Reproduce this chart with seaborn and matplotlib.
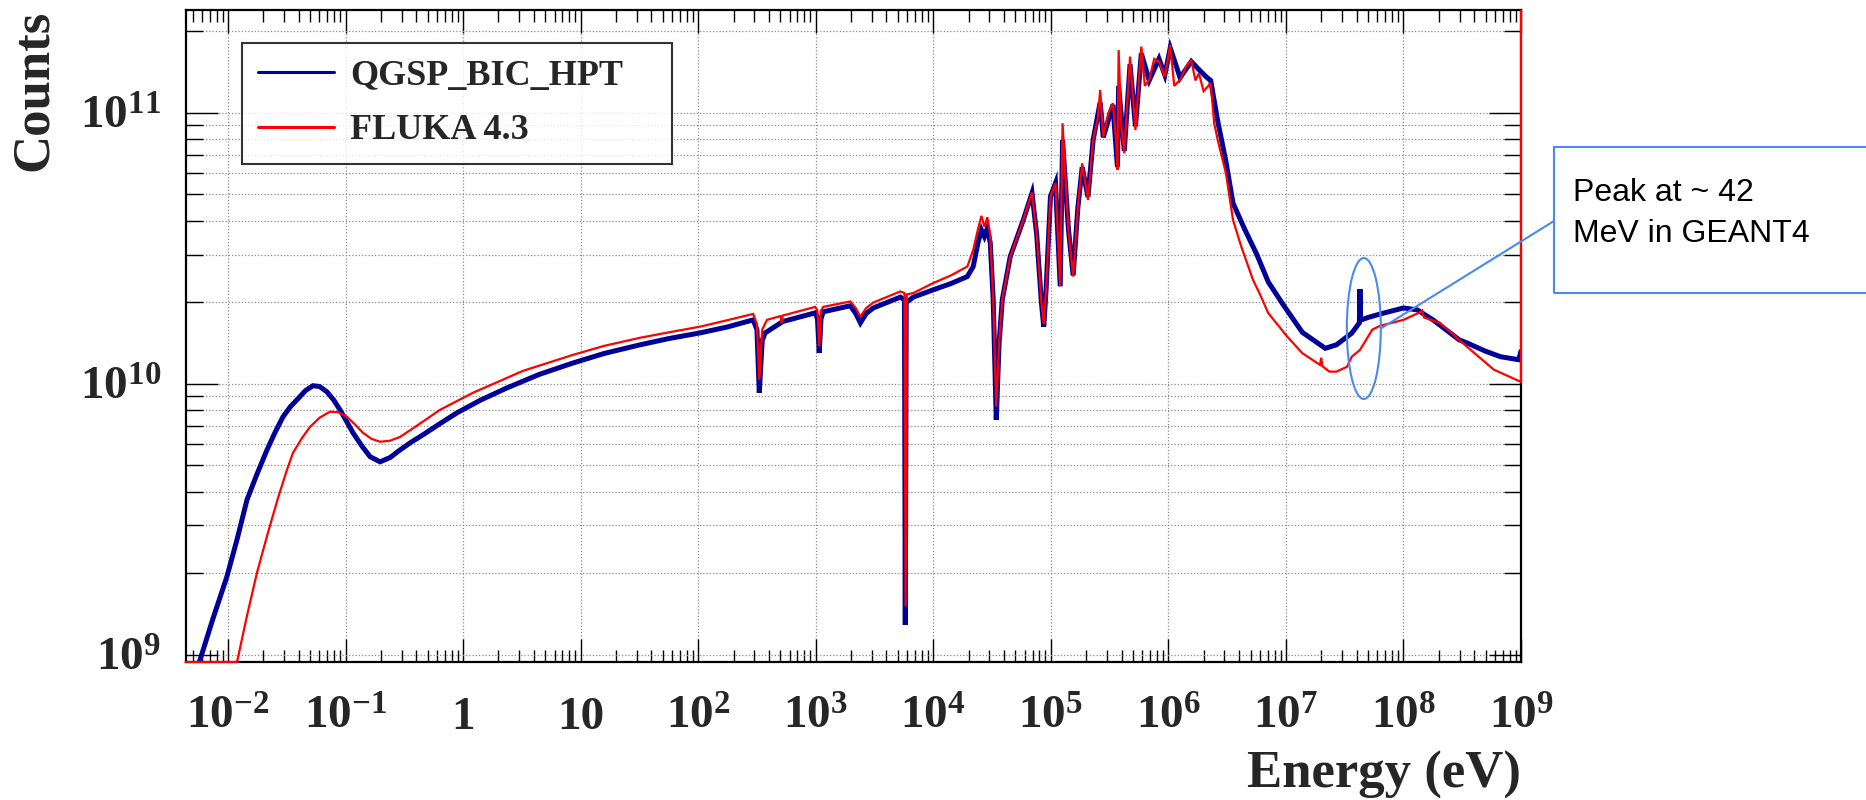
import numpy as np
import pandas as pd
import seaborn as sns
import matplotlib
matplotlib.use("Agg")
import matplotlib.pyplot as plt
from matplotlib.patches import Rectangle, Ellipse
from matplotlib.lines import Line2D
from matplotlib.transforms import Bbox, TransformedBbox
from matplotlib.ticker import FixedLocator, FixedFormatter, LogLocator, NullFormatter

# ---------------- data (log10 values) ----------------
qgsp_log_energy = [
    -2.26, -2.13, -2.009, -1.92, -1.838, -1.75, -1.668, -1.60, -1.532, -1.47,
    -1.413, -1.34, -1.277, -1.22, -1.157, -1.10, -1.047, -0.99, -0.936, -0.86,
    -0.791, -0.706, -0.62, -0.536, -0.44, -0.34, -0.20, -0.051, 0.15, 0.374,
    0.65, 0.936, 1.20, 1.506, 1.75, 2.017, 2.25, 2.468, 2.50, 2.52,
    2.545, 2.57, 2.72, 2.996, 3.015, 3.03, 3.045, 3.064, 3.294, 3.34,
    3.38, 3.43, 3.49, 3.72, 3.755, 3.762, 3.77, 3.83, 4.00, 4.15,
    4.29, 4.34, 4.38, 4.41, 4.435, 4.46, 4.485, 4.51, 4.536, 4.56,
    4.587, 4.655, 4.766, 4.84, 4.88, 4.92, 4.94, 4.96, 4.997, 5.04,
    5.07, 5.08, 5.10, 5.15, 5.19, 5.23, 5.267, 5.316, 5.36, 5.42,
    5.446, 5.528, 5.567, 5.577, 5.625, 5.674, 5.72, 5.77, 5.837, 5.92,
    5.97, 6.016, 6.10, 6.195, 6.26, 6.33, 6.36, 6.42, 6.49, 6.55,
    6.65, 6.75, 6.85, 6.98, 7.14, 7.335, 7.43, 7.56, 7.625, 7.63,
    7.636, 7.70, 7.804, 8.00, 8.117, 8.255, 8.475, 8.54, 8.70, 8.826,
    8.98, 9.00,
]
qgsp_log_counts = [
    8.95, 9.13, 9.288, 9.43, 9.572, 9.67, 9.756, 9.82, 9.878, 9.915,
    9.941, 9.975, 9.993, 9.99, 9.970, 9.94, 9.904, 9.86, 9.819, 9.77,
    9.731, 9.712, 9.728, 9.756, 9.785, 9.812, 9.852, 9.893, 9.94, 9.985,
    10.035, 10.077, 10.112, 10.144, 10.167, 10.188, 10.21, 10.236, 10.20, 9.967,
    10.16, 10.188, 10.23, 10.262, 10.24, 10.114, 10.24, 10.266, 10.288, 10.26,
    10.225, 10.26, 10.28, 10.32, 10.31, 9.11, 10.30, 10.32, 10.347, 10.37,
    10.396, 10.433, 10.52, 10.568, 10.544, 10.574, 10.52, 10.31, 9.867, 10.15,
    10.31, 10.47, 10.605, 10.704, 10.55, 10.30, 10.211, 10.35, 10.691, 10.741,
    10.45, 10.36, 10.90, 10.57, 10.40, 10.65, 10.80, 10.69, 10.90, 11.04,
    10.91, 11.03, 10.80, 11.10, 10.86, 11.18, 10.95, 11.22, 11.12, 11.20,
    11.14, 11.24, 11.13, 11.19, 11.16, 11.13, 11.12, 10.97, 10.82, 10.667,
    10.57, 10.48, 10.376, 10.29, 10.19, 10.131, 10.144, 10.187, 10.225, 10.35,
    10.235, 10.245, 10.258, 10.28, 10.273, 10.235, 10.162, 10.151, 10.12, 10.10,
    10.089, 10.12,
]

fluka_log_energy = [
    -2.36, -1.923, -1.84, -1.753, -1.66, -1.574, -1.50, -1.447, -1.37, -1.302,
    -1.22, -1.132, -1.06, -0.987, -0.92, -0.851, -0.78, -0.706, -0.62, -0.536,
    -0.37, -0.196, 0.085, 0.511, 0.936, 1.20, 1.506, 1.75, 2.017, 2.25,
    2.468, 2.50, 2.52, 2.545, 2.585, 2.70, 2.71, 2.72, 2.996, 3.015,
    3.03, 3.045, 3.064, 3.294, 3.34, 3.38, 3.43, 3.49, 3.72, 3.755,
    3.765, 3.775, 3.83, 4.00, 4.15, 4.29, 4.34, 4.38, 4.41, 4.435,
    4.46, 4.485, 4.51, 4.536, 4.56, 4.587, 4.655, 4.766, 4.84, 4.88,
    4.92, 4.94, 4.96, 4.997, 5.04, 5.06, 5.08, 5.10, 5.12, 5.15,
    5.19, 5.23, 5.267, 5.316, 5.36, 5.40, 5.42, 5.446, 5.49, 5.528,
    5.555, 5.567, 5.577, 5.60, 5.625, 5.674, 5.72, 5.77, 5.80, 5.837,
    5.88, 5.92, 5.97, 6.016, 6.05, 6.10, 6.15, 6.195, 6.23, 6.26,
    6.30, 6.36, 6.39, 6.42, 6.49, 6.55, 6.62, 6.72, 6.78, 6.85,
    7.01, 7.14, 7.29, 7.30, 7.31, 7.37, 7.43, 7.52, 7.56, 7.63,
    7.735, 7.80, 8.00, 8.15, 8.16, 8.175, 8.31, 8.54, 8.77, 9.00,
    9.00,
]
fluka_log_counts = [
    8.973, 8.973, 9.14, 9.303, 9.45, 9.579, 9.68, 9.745, 9.80, 9.841,
    9.875, 9.897, 9.895, 9.878, 9.85, 9.819, 9.797, 9.786, 9.79, 9.804,
    9.852, 9.904, 9.967, 10.048, 10.107, 10.14, 10.170, 10.19, 10.211, 10.235,
    10.258, 10.22, 10.015, 10.20, 10.236, 10.25, 10.225, 10.252, 10.284, 10.27,
    10.138, 10.27, 10.284, 10.304, 10.28, 10.248, 10.28, 10.30, 10.341, 10.335,
    9.178, 10.33, 10.335, 10.372, 10.40, 10.433, 10.494, 10.57, 10.62, 10.58,
    10.615, 10.55, 10.31, 9.916, 10.15, 10.31, 10.47, 10.605, 10.706, 10.55,
    10.30, 10.22, 10.35, 10.691, 10.741, 10.55, 10.36, 10.962, 10.80, 10.568,
    10.396, 10.65, 10.814, 10.679, 10.90, 10.98, 11.085, 10.913, 11.00, 11.036,
    10.90, 10.79, 11.232, 10.95, 10.851, 11.208, 10.937, 11.245, 11.10, 11.122,
    11.20, 11.19, 11.133, 11.251, 11.10, 11.122, 11.17, 11.196, 11.12, 11.146,
    11.08, 11.11, 10.962, 10.90, 10.777, 10.605, 10.507, 10.384, 10.33, 10.261,
    10.175, 10.113, 10.07, 10.096, 10.065, 10.045, 10.045, 10.063, 10.10, 10.125,
    10.20, 10.214, 10.236, 10.266, 10.27, 10.245, 10.225, 10.137, 10.052, 10.007,
    12.0,
]

series_names = ["QGSP_BIC_HPT", "FLUKA 4.3"]
series_colors = ["#000099", "#ff0000"]

x_tick_values = [1e-2, 1e-1, 1e0, 1e1, 1e2, 1e3, 1e4, 1e5, 1e6, 1e7, 1e8, 1e9]
x_tick_labels = [r"$10^{-2}$", r"$10^{-1}$", "1", "10", r"$10^{2}$", r"$10^{3}$",
                 r"$10^{4}$", r"$10^{5}$", r"$10^{6}$", r"$10^{7}$", r"$10^{8}$", r"$10^{9}$"]
y_tick_values = [1e9, 1e10, 1e11]
y_tick_labels = [r"$10^{9}$", r"$10^{10}$", r"$10^{11}$"]

x_limits = (10 ** -2.357, 1e9)
y_limits = (10 ** 8.973, 10 ** 11.38)

annotation_text = "Peak at ~ 42\nMeV in GEANT4"
annotation_center = (4.6e7, 1.6e10)

# ---------------- build table ----------------
df = pd.concat([
    pd.DataFrame({"Energy": 10.0 ** np.array(qgsp_log_energy),
                  "Counts": 10.0 ** np.array(qgsp_log_counts),
                  "Model": series_names[0]}),
    pd.DataFrame({"Energy": 10.0 ** np.array(fluka_log_energy),
                  "Counts": 10.0 ** np.array(fluka_log_counts),
                  "Model": series_names[1]}),
], ignore_index=True)

# ---------------- style ----------------
sns.set_theme(style="white")
plt.rcParams["font.family"] = ["Liberation Serif", "DejaVu Serif"]
plt.rcParams["mathtext.fontset"] = "custom"
plt.rcParams["mathtext.rm"] = "Liberation Serif:bold"
plt.rcParams["mathtext.it"] = "Liberation Serif:bold"
plt.rcParams["mathtext.bf"] = "Liberation Serif:bold"

W, H = 1866, 800
fig = plt.figure(figsize=(W / 100, H / 100), dpi=100)
ax_left, ax_right, ax_top, ax_bottom = 186, 1521, 10, 662
ax = fig.add_axes([ax_left / W, 1 - ax_bottom / H, (ax_right - ax_left) / W, (ax_bottom - ax_top) / H])
ax.set_xscale("log")
ax.set_yscale("log")

sns.lineplot(data=df, x="Energy", y="Counts", hue="Model", hue_order=series_names,
             palette=dict(zip(series_names, series_colors)), sort=False,
             estimator=None, legend=False, ax=ax)
lw_map = {0: 3.6, 1: 1.6}
z_map = {0: 2.8, 1: 3.0}
frame_clip = TransformedBbox(Bbox([[-0.01, -0.01], [1.01, 1.0]]), ax.transAxes)
for i, line in enumerate(ax.lines):
    line.set_linewidth(lw_map.get(i, 1.5))
    line.set_zorder(z_map.get(i, 3))
    line.set_solid_joinstyle("miter")
    if i == 1:
        line.set_clip_box(frame_clip)

ax.set_xlim(*x_limits)
ax.set_ylim(*y_limits)

# ticks
ax.xaxis.set_major_locator(FixedLocator(x_tick_values))
ax.xaxis.set_major_formatter(FixedFormatter(x_tick_labels))
ax.xaxis.set_minor_locator(LogLocator(base=10, subs=np.arange(2, 10), numticks=100))
ax.xaxis.set_minor_formatter(NullFormatter())
ax.yaxis.set_major_locator(FixedLocator(y_tick_values))
ax.yaxis.set_major_formatter(FixedFormatter(y_tick_labels))
ax.yaxis.set_minor_locator(LogLocator(base=10, subs=np.arange(2, 10), numticks=100))
ax.yaxis.set_minor_formatter(NullFormatter())

ax.tick_params(axis="x", which="major", direction="in", length=16.5, width=1.0,
               top=True, bottom=True, labelsize=34, pad=48, color="black")
ax.tick_params(axis="x", which="minor", direction="in", length=8.5, width=1.0,
               top=True, bottom=True, color="black")
ax.tick_params(axis="y", which="major", direction="in", length=23, width=1.0,
               left=True, right=True, labelsize=34, pad=18, color="black")
ax.tick_params(axis="y", which="minor", direction="in", length=12, width=1.0,
               left=True, right=True, color="black")
for lab in ax.get_xticklabels():
    lab.set_verticalalignment("baseline")
    lab.set_fontweight("bold")
for lab in ax.get_yticklabels():
    lab.set_fontweight("bold")

# grid
grid_kw = dict(color="#8c8c8c", linestyle=(0, (1, 1.6)), linewidth=0.9)
ax.grid(False)
ax.xaxis.grid(True, which="major", **grid_kw)
ax.yaxis.grid(True, which="both", **grid_kw)
ax.set_axisbelow(True)

for sp in ax.spines.values():
    sp.set_color("black")
    sp.set_linewidth(1.6)
    sp.set_visible(True)

# axis labels
ax.set_xlabel("Energy (eV)", fontsize=38, fontweight="bold", ha="right", va="baseline")
ax.xaxis.set_label_coords(1.0, (ax_bottom - 788) / (ax_bottom - ax_top))
ax.set_ylabel("Counts", fontsize=38, fontweight="bold", ha="right", va="bottom")
ax.yaxis.set_label_coords((58 - ax_left) / (ax_right - ax_left), 1.0)

# legend
handles = [Line2D([0], [0], color=c, lw=2.2) for c in series_colors]
leg = ax.legend(handles, series_names, loc="upper left",
                bbox_to_anchor=((242 - ax_left) / (ax_right - ax_left),
                                (ax_bottom - 168) / (ax_bottom - ax_top),
                                (672 - 242) / (ax_right - ax_left),
                                (168 - 43) / (ax_bottom - ax_top)),
                mode="expand", borderaxespad=0, frameon=True, fancybox=False,
                prop={"family": "Liberation Serif", "weight": "bold", "size": 26},
                handlelength=2.1, handletextpad=0.45, borderpad=0.45, labelspacing=0.6)
leg.get_frame().set_edgecolor("black")
leg.get_frame().set_linewidth(1.5)
leg.set_zorder(5)

# annotation: ellipse, connector and callout box
ann_color = "#4a8af0"
cx, cy = ax.transData.transform(annotation_center)
fx, fy = fig.transFigure.inverted().transform((cx, cy))
ell_w, ell_h = 34, 141
ell = Ellipse((fx, fy), ell_w / W, ell_h / H, transform=fig.transFigure,
              fill=False, edgecolor=ann_color, linewidth=1.5, zorder=6)
fig.add_artist(ell)
box_x0, box_top, box_bottom = 1554, 147, 293
fig.add_artist(Line2D([fx + ell_w / 2 / W, box_x0 / W], [fy, 1 - 221 / H],
                      transform=fig.transFigure, color=ann_color, lw=1.5, zorder=6))
fig.add_artist(Rectangle((box_x0 / W, 1 - box_bottom / H), (W + 20 - box_x0) / W,
                         (box_bottom - box_top) / H, transform=fig.transFigure,
                         fill=False, edgecolor=ann_color, linewidth=1.5, zorder=6))
fig.text(1573 / W, 1 - 213.5 / H, annotation_text, family=["Liberation Sans", "DejaVu Sans"],
         fontsize=23, color="black", ha="left", va="center", linespacing=1.45)

fig.savefig("out.png", dpi=100, facecolor="white")
